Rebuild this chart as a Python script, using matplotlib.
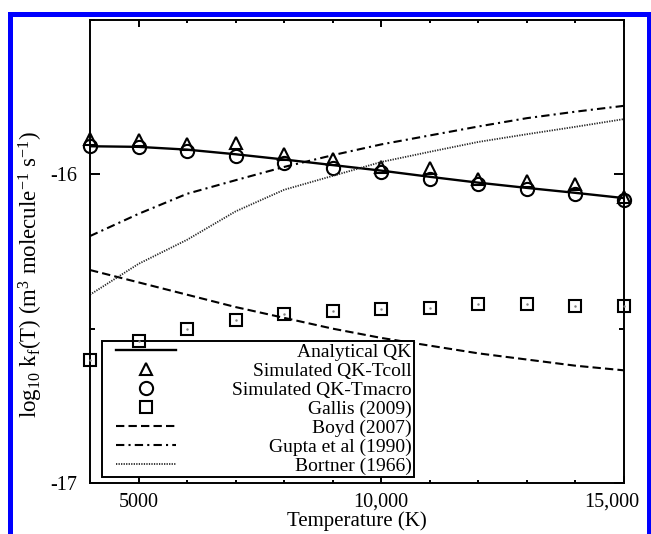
import matplotlib
matplotlib.use('Agg')
import matplotlib.pyplot as plt
import matplotlib.transforms as mtransforms
from matplotlib.ticker import MultipleLocator
import numpy as np

# Rate coefficient data, log10 k_f(T) in m^3 molecule^-1 s^-1
temps = [4000, 5000, 6000, 7000, 8000, 9000, 10000, 11000, 12000, 13000, 14000, 15000]
analytical_qk = [-15.909, -15.911, -15.920, -15.935, -15.952, -15.970, -15.988, -16.008, -16.027, -16.044, -16.060, -16.077]
sim_tcoll = [-15.886, -15.890, -15.903, -15.900, -15.935, -15.951, -15.975, -15.981, -16.016, -16.022, -16.032, -16.075]
sim_tmacro = [-15.909, -15.913, -15.924, -15.942, -15.962, -15.978, -15.994, -16.014, -16.032, -16.049, -16.065, -16.084]
gallis_2009 = [-16.603, -16.541, -16.502, -16.471, -16.451, -16.442, -16.436, -16.433, -16.419, -16.420, -16.425, -16.425]
boyd_2007 = [-16.310, -16.350, -16.390, -16.430, -16.465, -16.500, -16.530, -16.555, -16.580, -16.600, -16.620, -16.635]
gupta_1990 = [-16.200, -16.128, -16.063, -16.019, -15.976, -15.938, -15.903, -15.874, -15.845, -15.818, -15.797, -15.778]
bortner_1966 = [-16.390, -16.290, -16.212, -16.120, -16.050, -16.005, -15.960, -15.927, -15.895, -15.870, -15.846, -15.821]

xtick_vals = [5000, 10000, 15000]
xtick_labels = ['5000', '10,000', '15,000']
ytick_vals = [-17, -16]
ytick_labels = ['-17', '-16']

plt.rcParams['font.family'] = ['Liberation Serif', 'DejaVu Serif']
plt.rcParams['mathtext.fontset'] = 'custom'
plt.rcParams['mathtext.rm'] = 'Liberation Serif'
plt.rcParams['mathtext.it'] = 'Liberation Serif:italic'
plt.rcParams['mathtext.default'] = 'regular'
plt.rcParams['axes.unicode_minus'] = False
plt.rcParams['font.size'] = 14

fig = plt.figure(figsize=(6.51, 5.34), dpi=100)
ax = fig.add_axes([90 / 651, 1 - 483 / 534, 534 / 651, 463 / 534])

# lines and markers
ax.plot(temps, analytical_qk, color='black', lw=1.7, label='Analytical QK')
ax.plot(temps, sim_tcoll, ls='none', marker='^', ms=9, mfc='none', mec='black', mew=1.5,
        label='Simulated QK-Tcoll', clip_on=False)
ax.plot(temps, sim_tmacro, ls='none', marker='o', ms=9.5, mfc='none', mec='black', mew=1.5,
        label='Simulated QK-Tmacro', clip_on=False)
ax.plot(temps, gallis_2009, ls='none', marker='s', ms=9, mfc='none', mec='black', mew=1.5,
        label='Gallis (2009)', zorder=6, clip_on=False)
ax.plot(temps, gallis_2009, ls='none', marker='.', ms=1.5, color='0.5', zorder=6, clip_on=False)
ax.plot(temps, boyd_2007, color='black', lw=1.5, ls=(0, (4, 2)), label='Boyd (2007)')
ax.plot(temps, gupta_1990, color='black', lw=1.5, ls=(0, (4, 2, 1, 2)), label='Gupta et al (1990)')
ax.plot(temps, bortner_1966, color='0.15', lw=1.3, ls=(0, (0.7, 0.7)), label='Bortner (1966)')

ax.set_xlim(4000, 15000)
ax.set_ylim(-17, -15.5)
ax.set_xticks(xtick_vals)
ax.set_xticklabels(xtick_labels)
ax.set_yticks(ytick_vals)
ax.set_yticklabels(ytick_labels)
ax.xaxis.set_minor_locator(MultipleLocator(1000))
ax.yaxis.set_minor_locator(MultipleLocator(0.5))
ax.tick_params(which='both', direction='in', top=True, right=True, width=1.4, labelsize=14.5)
ax.tick_params(axis='x', which='major', length=5, pad=7)
ax.tick_params(axis='x', which='minor', length=2.5)
ax.tick_params(axis='y', which='major', length=7, pad=9)
ax.tick_params(axis='y', which='minor', length=3.5)
for sp in ax.spines.values():
    sp.set_linewidth(1.4)

# last x label sits a bit left of its tick
for lab in ax.get_xticklabels():
    if lab.get_text() == '15,000':
        lab.set_transform(lab.get_transform() +
                          mtransforms.ScaledTranslation(-12 / 100, 0, fig.dpi_scale_trans))

ax.set_xlabel('Temperature (K)', fontsize=15, labelpad=0)
ax.set_ylabel(r'log$_{10}$ k$_f$(T) (m$^3$ molecule$^{-1}$ s$^{-1}$)', fontsize=16.5)
ax.yaxis.set_label_coords(-0.085, 0.449)

leg = ax.legend(loc='lower left', bbox_to_anchor=(0.022, 0.013), borderaxespad=0,
                fancybox=False, edgecolor='black', framealpha=1, fontsize=14,
                borderpad=0.1, labelspacing=0.07, handlelength=3.1, handletextpad=3.5)
leg.get_frame().set_linewidth(1.4)

# right-justify legend text, indent samples like the original
fig.canvas.draw()
widths = [t.get_window_extent().width for t in leg.get_texts()]
maxw = max(widths)
for t, w in zip(leg.get_texts(), widths):
    t.set_position((maxw - w, 0))
for h in leg.legend_handles:
    h.set_xdata(np.asarray(h.get_xdata()) + 12 * 72 / 100)

# blue page border
fig.add_artist(plt.Rectangle((9.5 / 651, -0.05), (648.5 - 9.5) / 651, 1.05 - 13.5 / 534,
                             transform=fig.transFigure, fill=False, edgecolor='#0000ff', lw=3.6))

fig.savefig('out.png', dpi=100)
